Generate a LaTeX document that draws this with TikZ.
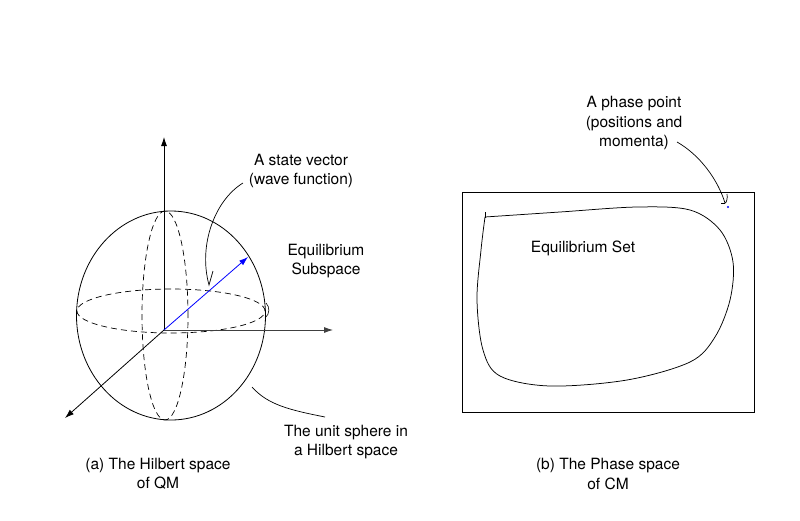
\documentclass[tikz,border=0pt]{standalone}
\usepackage{fontspec}
\setmainfont{TeX Gyre Heros}
\usetikzlibrary{arrows.meta}
\begin{document}
\begin{tikzpicture}[x=1pt,y=-1pt,
  line width=0.8pt,
  lbl/.style={inner sep=0pt, align=center, font=\fontsize{15.5}{19.5}\selectfont},
  axis/.style={-{Latex[length=9pt,width=6pt]}},
  dsh/.style={dash pattern=on 6pt off 4pt, line width=0.7pt},
  callout/.style={line width=0.7pt}]
\useasboundingbox[fill=white] (0,0) rectangle (800,520);

% ---------- left: Hilbert space ----------
\coordinate (O) at (164,330);
\coordinate (C) at (171,315.5);
\coordinate (Zt) at (164,137);
\coordinate (Xt) at (333,330);
\coordinate (Dt) at (65,418);
\coordinate (Vt) at (248,257);

\draw (C) ellipse [x radius=94.5pt, y radius=104.5pt];
\draw[dsh] (171,311) ellipse [x radius=94pt, y radius=22pt];
\draw[dsh] (165,315.5) ellipse [x radius=23pt, y radius=104.5pt];
\draw[line width=0.6pt] (266,303) .. controls (270,307) and (270,314) .. (265,318);

\draw[axis] (O) -- (Zt);
\draw[axis, draw=black!75, fill=black!75] (O) -- (Xt);
\draw[axis] (O) -- (Dt);
\draw[axis, blue] (O) -- (Vt);

\node[lbl] (sv) at (301,171) {A state vector\\(wave function)};
\node[lbl] (eq) at (326,261) {Equilibrium\\Subspace};
\node[lbl] (us) at (346,442) {The unit sphere in\\a Hilbert space};
\node[lbl] (capa) at (158,474) {(a) The Hilbert space\\of QM};

\coordinate (svs) at (243,183);
\coordinate (svh) at (209,285);
\coordinate (svk) at (213,271);
\draw[callout] (svs) .. controls (215,200) and (198,245) .. (svh) -- (svk);

\coordinate (uss) at (252,387);
\coordinate (use) at (325,417);
\draw[callout] (uss) .. controls (268,405) and (290,410) .. (use);

% ---------- right: Phase space ----------
\coordinate (R1) at (462,192);
\coordinate (R2) at (754,412);
\draw (R1) rectangle (R2);

\draw[line width=0.75pt] plot[smooth, tension=0.55] coordinates {
  (485,217) (560,212) (637,207) (690,210) (720,230) (733,262) (730,300)
  (715,337) (690,362) (627,380) (550,386) (500,376) (483,350) (477,300)
  (481,250) (485,217)};
\draw[line width=0.75pt] (485,218) -- (485,212);

\node[lbl] (es) at (583,248) {Equilibrium Set};
\node[lbl] (pp) at (634,123) {A phase point\\(positions and\\momenta)};
\node[lbl] (capb) at (608,474) {(b) The Phase space\\of CM};

\coordinate (pps) at (677,142);
\coordinate (pph) at (725,203);
\draw[callout] (pps) .. controls (700,155) and (718,180) .. (pph)
  .. controls (726,204) and (728,198) .. (727,194);
\draw[callout] (pph) -- (721,203);

\fill[blue] (728,207) circle (1.2pt) coordinate (P);
\end{tikzpicture}
\end{document}
